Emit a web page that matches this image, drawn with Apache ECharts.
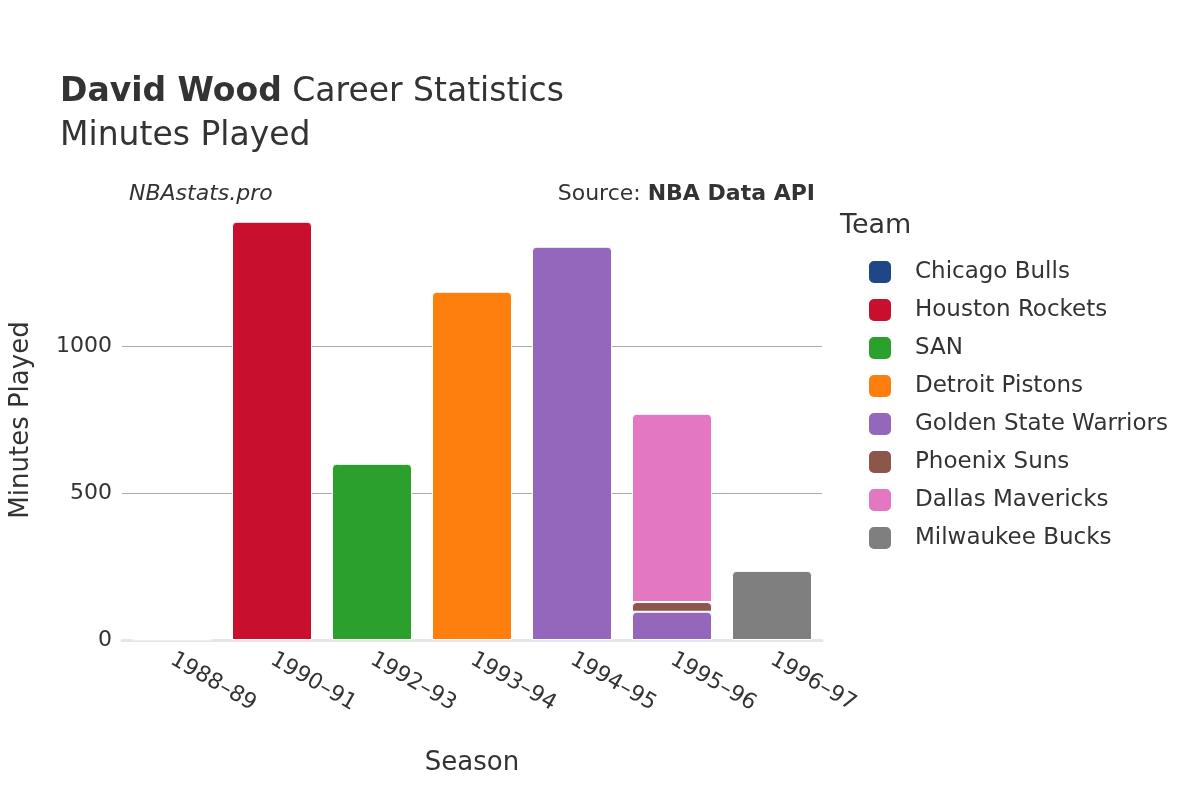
<!DOCTYPE html>
<html><head><meta charset="utf-8">
<script src="https://cdn.jsdelivr.net/npm/echarts@6/dist/echarts.min.js"></script>
<style>html,body{margin:0;padding:0;background:#fff}#c{width:1200px;height:800px}</style>
</head><body><div id="c"></div>
<script>
const seasons = ['1988–89','1990–91','1992–93','1993–94','1994–95','1995–96','1996–97'];
const teams = ['Chicago Bulls','Houston Rockets','SAN','Detroit Pistons','Golden State Warriors','Phoenix Suns','Dallas Mavericks','Milwaukee Bucks'];
const colors = ['#1f4788','#c8102e','#2ca02c','#ff7f0e','#9467bd','#8c564b','#e377c2','#7f7f7f'];
const gridTicks = [500,1000];
const chicago   = [2,null,null,null,null,null,null];
const houston   = [null,1422,null,null,null,null,null];
const san       = [null,null,599,null,null,null,null];
const detroit   = [null,null,null,1184,null,null,null];
const gsw       = [null,null,null,null,1337,96,null];
const phoenix   = [null,null,null,null,null,33,null];
const dallas    = [null,null,null,null,null,640,null];
const milwaukee = [null,null,null,null,null,null,235];
const values = [chicago,houston,san,detroit,gsw,phoenix,dallas,milwaukee];
const font = 'DejaVu Sans';
const chart = echarts.init(document.getElementById('c'));
chart.setOption({
  animation:false,
  textStyle:{fontFamily:font},
  title:[
    {text:'{b|David Wood} Career Statistics\nMinutes Played',left:55,top:65,
     textStyle:{fontFamily:font,fontSize:33,color:'#333',fontWeight:'normal',lineHeight:44,
       rich:{b:{fontFamily:font,fontSize:33,fontWeight:'bold',color:'#333'}}}},
    {text:'NBAstats.pro',left:124,top:178,textStyle:{fontFamily:font,fontSize:22,fontStyle:'italic',fontWeight:'normal',color:'#333'}},
    {text:'Source: {b|NBA Data API}',right:380,top:178,textStyle:{fontFamily:font,fontSize:22,fontWeight:'normal',color:'#333',
       rich:{b:{fontFamily:font,fontSize:22,fontWeight:'bold',color:'#333'}}}}
  ],
  legend:{orient:'vertical',left:862,top:254,itemWidth:24,itemHeight:24,itemGap:12,icon:'roundRect',
    textStyle:{fontFamily:font,fontSize:23,color:'#333',padding:[0,0,0,18]},data:teams},
  graphic:[{type:'text',left:840,top:212,style:{text:'Team',font:'27px DejaVu Sans',fill:'#333'}}],
  grid:{left:122,right:378,top:200,bottom:160},
  xAxis:{type:'category',data:seasons,name:'Season',nameLocation:'middle',nameGap:110,
    nameTextStyle:{fontSize:26,color:'#333',fontFamily:font},
    axisLine:{lineStyle:{color:'#e6e6e6',width:3}},axisTick:{show:false},
    axisLabel:{rotate:-30,fontSize:22,color:'#333',fontFamily:font,margin:18,align:'left'}},
  yAxis:{type:'value',min:0,max:1496,interval:500,name:'Minutes Played',nameLocation:'middle',nameGap:88,
    nameTextStyle:{fontSize:26,color:'#333',fontFamily:font},
    axisLabel:{fontSize:22,color:'#333',fontFamily:font,margin:10,showMaxLabel:false,formatter:v=>String(v)},
    splitLine:{show:false}},
  series:teams.map((t,i)=>({name:t,type:'bar',stack:'all',data:values[i],barCategoryGap:'20%',
    itemStyle:{color:colors[i],borderColor:'#fff',borderWidth:1,borderRadius:[4,4,0,0]},
    markLine: i===0 ? {silent:true,symbol:'none',label:{show:false},z:0,
      lineStyle:{color:'#aaa',width:1,type:'solid'},data:gridTicks.map(v=>({yAxis:v}))} : undefined}))
});
</script></body></html>
